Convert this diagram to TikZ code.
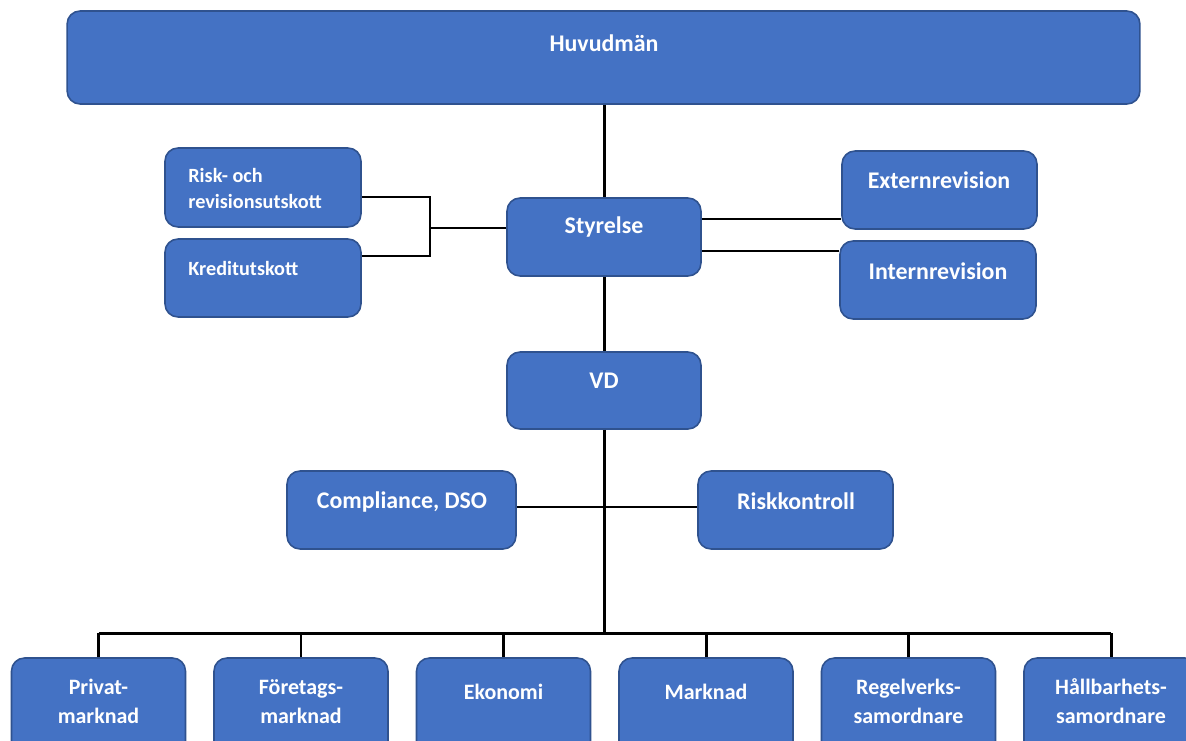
\documentclass[tikz,border=0pt]{standalone}
\usepackage{fontspec}
\setmainfont{Carlito}
\usepackage{tikz}
\usetikzlibrary{calc}
\definecolor{orgfill}{HTML}{4472C4}
\definecolor{orgline}{HTML}{2F528F}
\tikzset{
	orgbox/.style 2 args={draw=orgline, line width=0.9pt, fill=orgfill, rounded corners=0.26cm, minimum width=#1, minimum height=#2, inner sep=0pt},
	orgtext/.style={text=white, inner sep=0pt, align=center, font=\bfseries\fontsize{13.6}{16}\selectfont},
	smalltext/.style={text=white, inner sep=0pt, align=left, font=\bfseries\fontsize{11.5}{14.7}\selectfont},
	unittext/.style={text=white, inner sep=0pt, align=center, font=\bfseries\fontsize{12.5}{16.4}\selectfont},
	link/.style={draw=black, line width=1.7pt}
}

\begin{document}
\begin{tikzpicture}[x=0.02cm, y=-0.02cm]
			\clip (0,0) rectangle (1186,740);
			\fill[white] (0,0) rectangle (1186,740);
			\node[orgbox={21.46cm}{1.86cm}] (huvud) at (603.5,57.5) {};
			\node[orgtext] (huvud-t) at (604,43) {Huvudmän};
			\node[orgbox={3.92cm}{1.58cm}] (risk) at (263,187.5) {};
			\node[smalltext, anchor=west] (risk-t) at (188,188.5) {Risk- och\\revisionsutskott};
			\node[orgbox={3.92cm}{1.56cm}] (kredit) at (263,278) {};
			\node[smalltext, anchor=west] (kredit-t) at (188,268) {Kreditutskott};
			\node[orgbox={3.88cm}{1.56cm}] (styrelse) at (604,237) {};
			\node[orgtext] (styrelse-t) at (604,227) {Styrelse};
			\node[orgbox={3.9cm}{1.56cm}] (extern) at (939.5,190) {};
			\node[orgtext] (extern-t) at (939,180) {Externrevision};
			\node[orgbox={3.92cm}{1.56cm}] (intern) at (938,280) {};
			\node[orgtext] (intern-t) at (938,271) {Internrevision};
			\node[orgbox={3.88cm}{1.54cm}] (vd) at (604,390.5) {};
			\node[orgtext] (vd-t) at (604,381) {VD};
			\node[orgbox={4.58cm}{1.56cm}] (compl) at (401.5,510) {};
			\node[orgtext] (compl-t) at (402,502) {Compliance, DSO};
			\node[orgbox={3.9cm}{1.56cm}] (riskk) at (795.5,510) {};
			\node[orgtext] (riskk-t) at (796,501) {Riskkontroll};
			\foreach \i/\ty/\name/\txt in {0/701.5/privat/Privat-\\marknad, 1/701.5/foretag/Företags-\\marknad, 2/692/ekonomi/Ekonomi, 3/692/marknad/Marknad, 4/701.5/regelverk/Regelverks-\\samordnare, 5/701.5/hallbar/Hållbarhets-\\samordnare}
			{
				\node[orgbox={3.48cm}{2cm}] (b\name) at ({98.5+202.5*\i},708) {};
				\node[unittext] (b\name-t) at ({98.5+202.5*\i},\ty) {\txt};
			}
			\coordinate (jn) at (430,228);
			\coordinate (bus) at (604,633);
			\draw[link] (huvud.south -| styrelse.north) -- (styrelse.north);
			\draw[link] (styrelse.south) -- (vd.north);
			\draw[link] (vd.south) -- (bus);
			\draw[link] ([yshift=-0.19cm]risk.east) -| (jn) |- ([yshift=0.44cm]kredit.east);
			\draw[link] (jn) -- (jn -| styrelse.west);
			\draw[link] ([yshift=0.36cm]styrelse.east) coordinate (se) -- (se -| extern.west);
			\draw[link] ([yshift=-0.28cm]styrelse.east) coordinate (si) -- (si -| intern.west);
			\draw[link] ([yshift=0.06cm]compl.east) -- ([yshift=0.06cm]riskk.west);
			\draw[link] (bprivat.north |- bus) -- (bhallbar.north |- bus);
			\foreach \name in {privat, foretag, ekonomi, marknad, regelverk, hallbar}
				\draw[link] (b\name.north) -- (b\name.north |- bus);
		\end{tikzpicture}
\end{document}
